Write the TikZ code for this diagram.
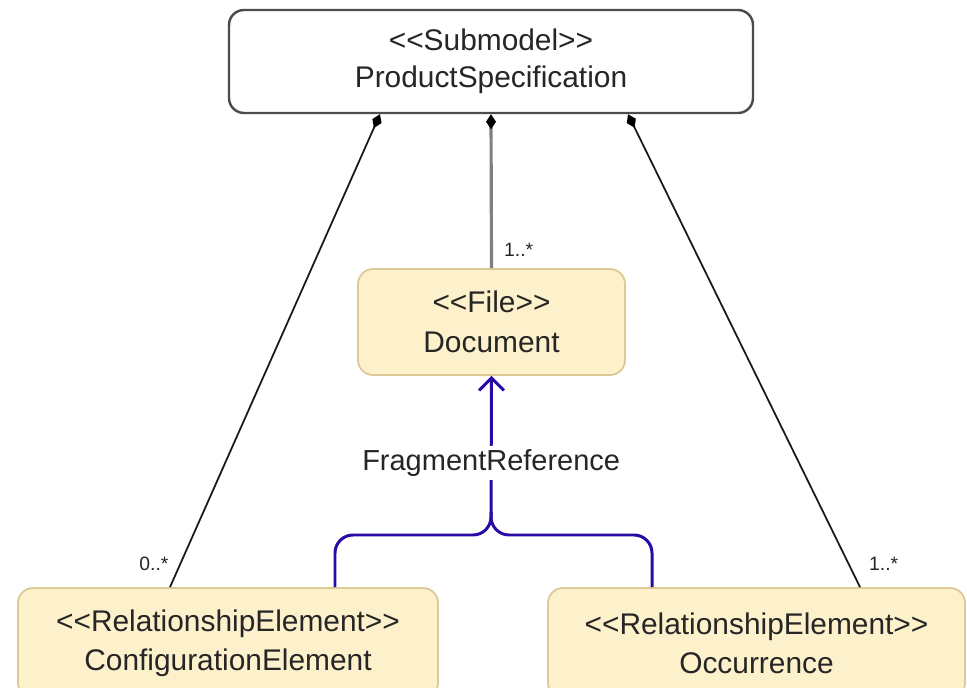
\documentclass[tikz,border=0pt]{standalone}
\usepackage{fontspec}
\setmainfont{Liberation Sans}
\usetikzlibrary{arrows.meta}

\definecolor{noteyellow}{HTML}{FDF1CC}
\definecolor{notetan}{HTML}{DCC995}
\definecolor{refblue}{RGB}{42,10,165}
\definecolor{textgray}{HTML}{262626}

% stereotype in << >>, kerns keep the font mapping from making guillemets
\newcommand\stereo[1]{<\kern0pt<#1>\kern0pt>}

\tikzset{
  umlbox/.style={draw=black!70, line width=1.4pt, rounded corners=0.3cm, fill=white,
    align=center, text=textgray, font=\fontsize{17}{22}\selectfont},
  yellowbox/.style={umlbox, draw=notetan, line width=1pt, fill=noteyellow},
  compose/.style={{Diamond[length=0.3cm,width=0.2cm,color=black]}-, line width=1pt, black!90},
  mult/.style={font=\fontsize{11}{13}\selectfont, text=textgray},
  rel/.style={refblue, line width=1.7pt}
}

\begin{document}
\begin{tikzpicture}
\clip (0,0) rectangle (19.34,13.74);
\fill[white] (0,0) rectangle (19.34,13.74);
% classes
\node[umlbox, minimum width=10.48cm, minimum height=2.06cm] (spec) at (9.82,12.51)
  {\stereo{Submodel}\\[-1pt]ProductSpecification};
\node[yellowbox, minimum width=5.34cm, minimum height=2.12cm] (doc) at (9.83,7.3)
  {\stereo{File}\\[1pt]Document};
\node[yellowbox, minimum width=8.4cm, minimum height=2.2cm] (cfg) at (4.56,0.88)
  {\stereo{RelationshipElement}\\ConfigurationElement};
\node[yellowbox, minimum width=8.34cm, minimum height=2.2cm] (occ) at (15.13,0.88)
  {\stereo{RelationshipElement}\\Occurrence};
% compositions
\draw[compose] ([xshift=-2.22cm]spec.south) -- ([xshift=-1.16cm]cfg.north)
  node[mult, pos=0.95, left=3pt] {0..*};
\draw[compose, black!50, line width=1.8pt] (spec.south) -- (doc.north)
  node[mult, pos=0.88, right=3pt] {1..*};
\draw[compose] ([xshift=2.74cm]spec.south) -- ([xshift=2.07cm]occ.north)
  node[mult, pos=0.95, right=8pt] {1..*};
% fragment reference
\coordinate (join) at (9.82,3.5);
\draw[rel, rounded corners=0.36cm] ([xshift=2.14cm]cfg.north) |- ([yshift=-0.46cm]join) -- (join);
\draw[rel, rounded corners=0.36cm] ([xshift=-2.09cm]occ.north) |- ([yshift=-0.46cm]join) -- (join);
\draw[rel, -{Straight Barb[length=0.25cm,width=0.5cm]}] (join) -- (doc.south)
  node[pos=0.36, fill=white, text=textgray, inner sep=2pt, font=\fontsize{16.5}{20}\selectfont] {FragmentReference};
\end{tikzpicture}
\end{document}
